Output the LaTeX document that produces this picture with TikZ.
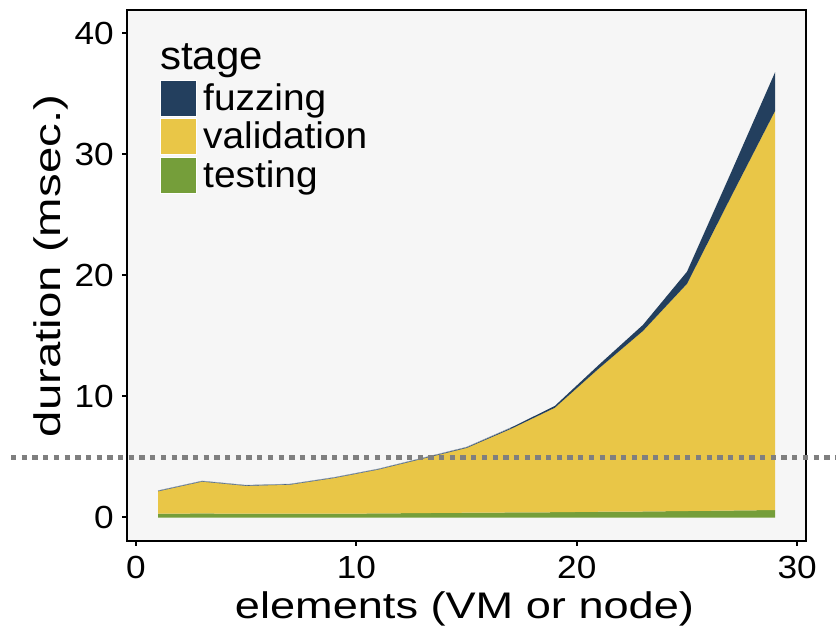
\documentclass[tikz,border=0pt]{standalone}
\usepackage{fontspec}
\setmainfont{Liberation Sans}
\newfontfamily\axfont[FakeStretch=1.22]{Liberation Sans}
\newfontfamily\ayfont[FakeStretch=1.28]{Liberation Sans}
\newfontfamily\tkfont[FakeStretch=1.1]{Liberation Sans}
\newfontfamily\lgfont[FakeStretch=1.05]{Liberation Sans}
\definecolor{fuzzc}{HTML}{233F5E}
\definecolor{valc}{HTML}{E9C647}
\definecolor{testc}{HTML}{759E3A}
\definecolor{panelc}{HTML}{F6F6F6}
\definecolor{dotc}{HTML}{7F7F7F}
\tikzset{
  ticklab/.style={font=\tkfont\fontsize{32}{34}\selectfont, inner sep=0pt},
  axtitle/.style={font=\axfont\fontsize{37}{40}\selectfont, inner sep=0pt},
  aytitle/.style={font=\ayfont\fontsize{37}{40}\selectfont, inner sep=0pt},
  lgtitle/.style={font=\lgfont\fontsize{40}{42}\selectfont, inner sep=0pt, anchor=base west},
  lglab/.style={font=\lgfont\fontsize{37}{40}\selectfont, inner sep=0pt, anchor=base west},
  keybox/.style={draw=white, line width=1pt},
  tickline/.style={line width=2pt, black},
}
\begin{document}
\begin{tikzpicture}[x=1pt,y=-1pt]
\useasboundingbox (0,0) rectangle (836,627);
\fill[white] (0,0) rectangle (836,627);
% panel
\fill[panelc] (127,10) rectangle (806,541);
% data
\begin{scope}[shift={(136,517.3)}, x=22.04pt, y=12.1pt]
  \fill[testc] (1,-0.03) -- (1,0.3) -- (3,0.32) -- (5,0.3) -- (7,0.3) -- (9,0.3) -- (11,0.32) -- (13,0.35) -- (15,0.38) -- (17,0.4) -- (19,0.42) -- (21,0.46) -- (23,0.48) -- (25,0.52) -- (27,0.56) -- (29,0.6) -- (29,-0.03) -- cycle;
  \fill[valc] (1,0.3) -- (3,0.32) -- (5,0.3) -- (7,0.3) -- (9,0.3) -- (11,0.32) -- (13,0.35) -- (15,0.38) -- (17,0.4) -- (19,0.42) -- (21,0.46) -- (23,0.48) -- (25,0.52) -- (27,0.56) -- (29,0.6)
    -- (29,33.6) -- (27,26.5) -- (25,19.3) -- (23,15.4) -- (21,12.3) -- (19,9.05) -- (17,7.3) -- (15,5.73) -- (13,4.84) -- (11,3.95) -- (9,3.25) -- (7,2.7) -- (5,2.6) -- (3,2.95) -- (1,2.15) -- cycle;
  \fill[fuzzc] (1,2.15) -- (3,2.95) -- (5,2.6) -- (7,2.7) -- (9,3.25) -- (11,3.95) -- (13,4.84) -- (15,5.73) -- (17,7.3) -- (19,9.05) -- (21,12.3) -- (23,15.4) -- (25,19.3) -- (27,26.5) -- (29,33.6)
    -- (29,36.8) -- (27,28.5) -- (25,20.3) -- (23,15.9) -- (21,12.6) -- (19,9.2) -- (17,7.4) -- (15,5.8) -- (13,4.9) -- (11,4.0) -- (9,3.3) -- (7,2.75) -- (5,2.65) -- (3,3.0) -- (1,2.2) -- cycle;
  \draw[fuzzc!45, line width=0.6pt] (1,2.2) -- (3,3.0) -- (5,2.65) -- (7,2.75) -- (9,3.3) -- (11,4.0) -- (13,4.9) -- (15,5.8) -- (17,7.4);
\end{scope}
% frame
\draw[line width=2pt, black] (127,10) rectangle (806,541);
% dotted threshold line
\draw[dotc, line width=4.5pt, dash pattern=on 5.3pt off 5.4pt] (11,457.5) -- (836,457.5);
% y ticks
\foreach \v/\n in {0/ya,10/yb,20/yc,30/yd,40/ye}{
  \draw[tickline] (122,{517.3-12.1*\v}) -- (127,{517.3-12.1*\v});
  \node[ticklab, anchor=east] (\n) at (114,{517.3-12.1*\v}) {\v};
}
% x ticks
\foreach \v/\n in {0/xa,10/xb,20/xc,30/xd}{
  \draw[tickline] ({136+22.04*\v},541) -- ({136+22.04*\v},546);
  \node[ticklab, anchor=base] (\n) at ({136+22.04*\v},578) {\v};
}
% axis titles
\node[axtitle, anchor=base] (xtitle) at (464.5,618) {elements (VM or node)};
\node[aytitle, anchor=base, rotate=90] (ytitle) at (60,266) {duration (msec.)};
% legend
\node[lgtitle] (lgt) at (160,69) {stage};
\draw[keybox, fill=fuzzc] (160,80) rectangle (196,116);
\draw[keybox, fill=valc] (160,118) rectangle (196,154);
\draw[keybox, fill=testc] (160,157) rectangle (196,193);
\node[lglab] (l1) at (203,110) {fuzzing};
\node[lglab] (l2) at (203,148) {validation};
\node[lglab] (l3) at (203,187) {testing};
\end{tikzpicture}
\end{document}
